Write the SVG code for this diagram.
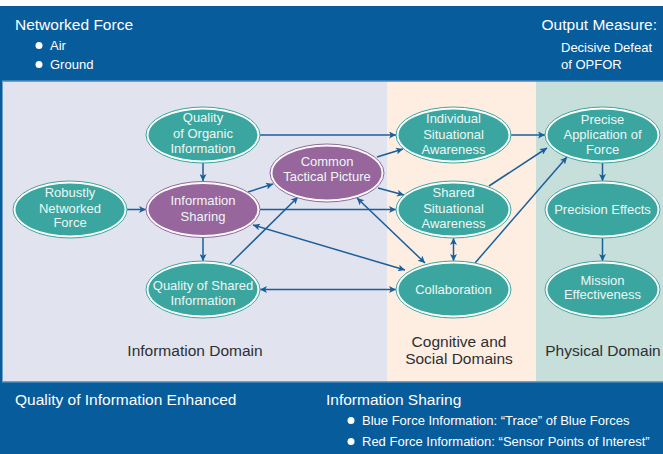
<svg xmlns="http://www.w3.org/2000/svg" width="663" height="454" viewBox="0 0 663 454">
<style>
.hdr{font-family:"Liberation Sans",Arial,sans-serif;fill:#ffffff}
.h1{font-size:15.5px}
.h2{font-size:13px}
.dom{font-family:"Liberation Sans",Arial,sans-serif;font-size:15.5px;fill:#2e2e33;text-anchor:middle}
.nt{font-family:"Liberation Sans",Arial,sans-serif;font-size:13px;fill:#eef6f5;text-anchor:middle}
.ring{fill:#ffffff;stroke-width:1}
.tealo{stroke:#3aa69f}
.purpo{stroke:#96669d}
.teal{fill:#3aa69f}
.purp{fill:#96669d}
.con{fill:none;stroke:#1b5e9c;stroke-width:1.5}
.bul{fill:#ffffff}
</style>
<defs>
<marker id="ah" viewBox="0 0 10 10" refX="10" refY="5" markerWidth="8" markerHeight="7" markerUnits="userSpaceOnUse" orient="auto-start-reverse">
<path d="M0,0 L10,5 L0,10 L2.5,5 z" fill="#1b5e9c"/>
</marker>
</defs>
<rect x="0" y="0" width="663" height="454" fill="#ffffff"/>
<rect x="0" y="6" width="663" height="448" fill="#075c9c"/>
<g id="backgrounds">
<rect x="3" y="81.5" width="384" height="300" fill="#e1e3ef"/>
<rect x="387" y="81.5" width="149" height="300" fill="#fdeee1"/>
<rect x="536" y="81.5" width="127" height="300" fill="#c6dfda"/>
<rect x="2.5" y="81" width="662" height="301" fill="none" stroke="#6f9fcb" stroke-width="1"/>
</g>
<g id="header">
<text class="hdr h1" x="15" y="30">Networked Force</text>
<circle class="bul" cx="39" cy="45.5" r="3.5"/>
<text class="hdr h2" x="50" y="50">Air</text>
<circle class="bul" cx="39" cy="64.5" r="3.5"/>
<text class="hdr h2" x="50" y="69">Ground</text>
<text class="hdr h1" x="657" y="30" text-anchor="end">Output Measure:</text>
<text class="hdr h2" x="561" y="51.5">Decisive Defeat</text>
<text class="hdr h2" x="561" y="69">of OPFOR</text>
</g>
<g id="footer">
<text class="hdr h1" x="15" y="405">Quality of Information Enhanced</text>
<text class="hdr h1" x="326" y="405">Information Sharing</text>
<circle class="bul" cx="351" cy="420.5" r="3.5"/>
<text class="hdr h2" x="362" y="425">Blue Force Information: “Trace” of Blue Forces</text>
<circle class="bul" cx="351" cy="441.5" r="3.5"/>
<text class="hdr h2" x="362" y="446">Red Force Information: “Sensor Points of Interest”</text>
</g>
<g id="domain-labels">
<text class="dom" x="195" y="356">Information Domain</text>
<text class="dom" x="459" y="347">Cognitive and</text>
<text class="dom" x="459" y="364">Social Domains</text>
<text class="dom" x="603" y="356">Physical Domain</text>
</g>
<g id="connectors">
<path class="con" d="M203,163 L203,181" marker-end="url(#ah)"/>
<path class="con" d="M127,209.5 L146,209.5" marker-end="url(#ah)"/>
<path class="con" d="M260,135 L396,135" marker-end="url(#ah)"/>
<path class="con" d="M248,192 L273,184" marker-end="url(#ah)"/>
<path class="con" d="M260,209.5 L396,209.5" marker-end="url(#ah)"/>
<path class="con" d="M377,157 L403,149" marker-end="url(#ah)"/>
<path class="con" d="M378,188 L404,195" marker-end="url(#ah)"/>
<path class="con" d="M230,264 L298,197" marker-end="url(#ah)"/>
<path class="con" d="M253,225 L405,270" marker-start="url(#ah)" marker-end="url(#ah)"/>
<path class="con" d="M357,198 L425,263" marker-start="url(#ah)" marker-end="url(#ah)"/>
<path class="con" d="M260,289.5 L396,289.5" marker-start="url(#ah)" marker-end="url(#ah)"/>
<path class="con" d="M453.5,238 L453.5,261" marker-start="url(#ah)" marker-end="url(#ah)"/>
<path class="con" d="M475,263 L567,157" marker-end="url(#ah)"/>
<path class="con" d="M489,186 L547,148" marker-end="url(#ah)"/>
<path class="con" d="M511,135 L545,135" marker-end="url(#ah)"/>
<path class="con" d="M602.5,163 L602.5,181" marker-end="url(#ah)"/>
<path class="con" d="M602.5,238 L602.5,261" marker-end="url(#ah)"/>
<path class="con" d="M203,238 L203,261" marker-end="url(#ah)"/>
</g>
<g id="quality-organic">
<ellipse class="ring tealo" cx="203" cy="135" rx="57" ry="28"/>
<ellipse class="teal" cx="203" cy="135" rx="54.5" ry="25.5"/>
<text class="nt" x="203" y="122">Quality</text>
<text class="nt" x="203" y="138">of Organic</text>
<text class="nt" x="203" y="153">Information</text>
</g>
<g id="robustly-networked">
<ellipse class="ring tealo" cx="70" cy="209.5" rx="57" ry="28.5"/>
<ellipse class="teal" cx="70" cy="209.5" rx="54.5" ry="26"/>
<text class="nt" x="70" y="197">Robustly</text>
<text class="nt" x="70" y="212.5">Networked</text>
<text class="nt" x="70" y="227">Force</text>
</g>
<g id="information-sharing">
<ellipse class="ring purpo" cx="203" cy="209.5" rx="57" ry="28"/>
<ellipse class="purp" cx="203" cy="209.5" rx="54.5" ry="25.5"/>
<text class="nt" x="203" y="205">Information</text>
<text class="nt" x="203" y="221">Sharing</text>
</g>
<g id="common-tactical-picture">
<ellipse class="ring purpo" cx="327" cy="173" rx="57" ry="29"/>
<ellipse class="purp" cx="327" cy="173" rx="54.5" ry="26.5"/>
<text class="nt" x="327" y="166">Common</text>
<text class="nt" x="327" y="181">Tactical Picture</text>
</g>
<g id="individual-sa">
<ellipse class="ring tealo" cx="453.5" cy="135" rx="57.5" ry="28"/>
<ellipse class="teal" cx="453.5" cy="135" rx="55" ry="25.5"/>
<text class="nt" x="453.5" y="123">Individual</text>
<text class="nt" x="453.5" y="139">Situational</text>
<text class="nt" x="453.5" y="154">Awareness</text>
</g>
<g id="shared-sa">
<ellipse class="ring tealo" cx="453.5" cy="209.5" rx="57.5" ry="28.5"/>
<ellipse class="teal" cx="453.5" cy="209.5" rx="55" ry="26"/>
<text class="nt" x="453.5" y="197">Shared</text>
<text class="nt" x="453.5" y="213">Situational</text>
<text class="nt" x="453.5" y="228">Awareness</text>
</g>
<g id="precise-application">
<ellipse class="ring tealo" cx="602.5" cy="135" rx="57.5" ry="28"/>
<ellipse class="teal" cx="602.5" cy="135" rx="55" ry="25.5"/>
<text class="nt" x="602.5" y="124">Precise</text>
<text class="nt" x="602.5" y="139">Application of</text>
<text class="nt" x="602.5" y="154">Force</text>
</g>
<g id="precision-effects">
<ellipse class="ring tealo" cx="602.5" cy="209.5" rx="57.5" ry="28.5"/>
<ellipse class="teal" cx="602.5" cy="209.5" rx="55" ry="26"/>
<text class="nt" x="602.5" y="214">Precision Effects</text>
</g>
<g id="quality-shared">
<ellipse class="ring tealo" cx="203" cy="289.5" rx="57" ry="28.5"/>
<ellipse class="teal" cx="203" cy="289.5" rx="54.5" ry="26"/>
<text class="nt" x="203" y="290">Quality of Shared</text>
<text class="nt" x="203" y="305">Information</text>
</g>
<g id="collaboration">
<ellipse class="ring tealo" cx="453.5" cy="289.5" rx="57.5" ry="28.5"/>
<ellipse class="teal" cx="453.5" cy="289.5" rx="55" ry="26"/>
<text class="nt" x="453.5" y="294">Collaboration</text>
</g>
<g id="mission-effectiveness">
<ellipse class="ring tealo" cx="602.5" cy="289.5" rx="57.5" ry="28.5"/>
<ellipse class="teal" cx="602.5" cy="289.5" rx="55" ry="26"/>
<text class="nt" x="602.5" y="285">Mission</text>
<text class="nt" x="602.5" y="299">Effectiveness</text>
</g>
</svg>
